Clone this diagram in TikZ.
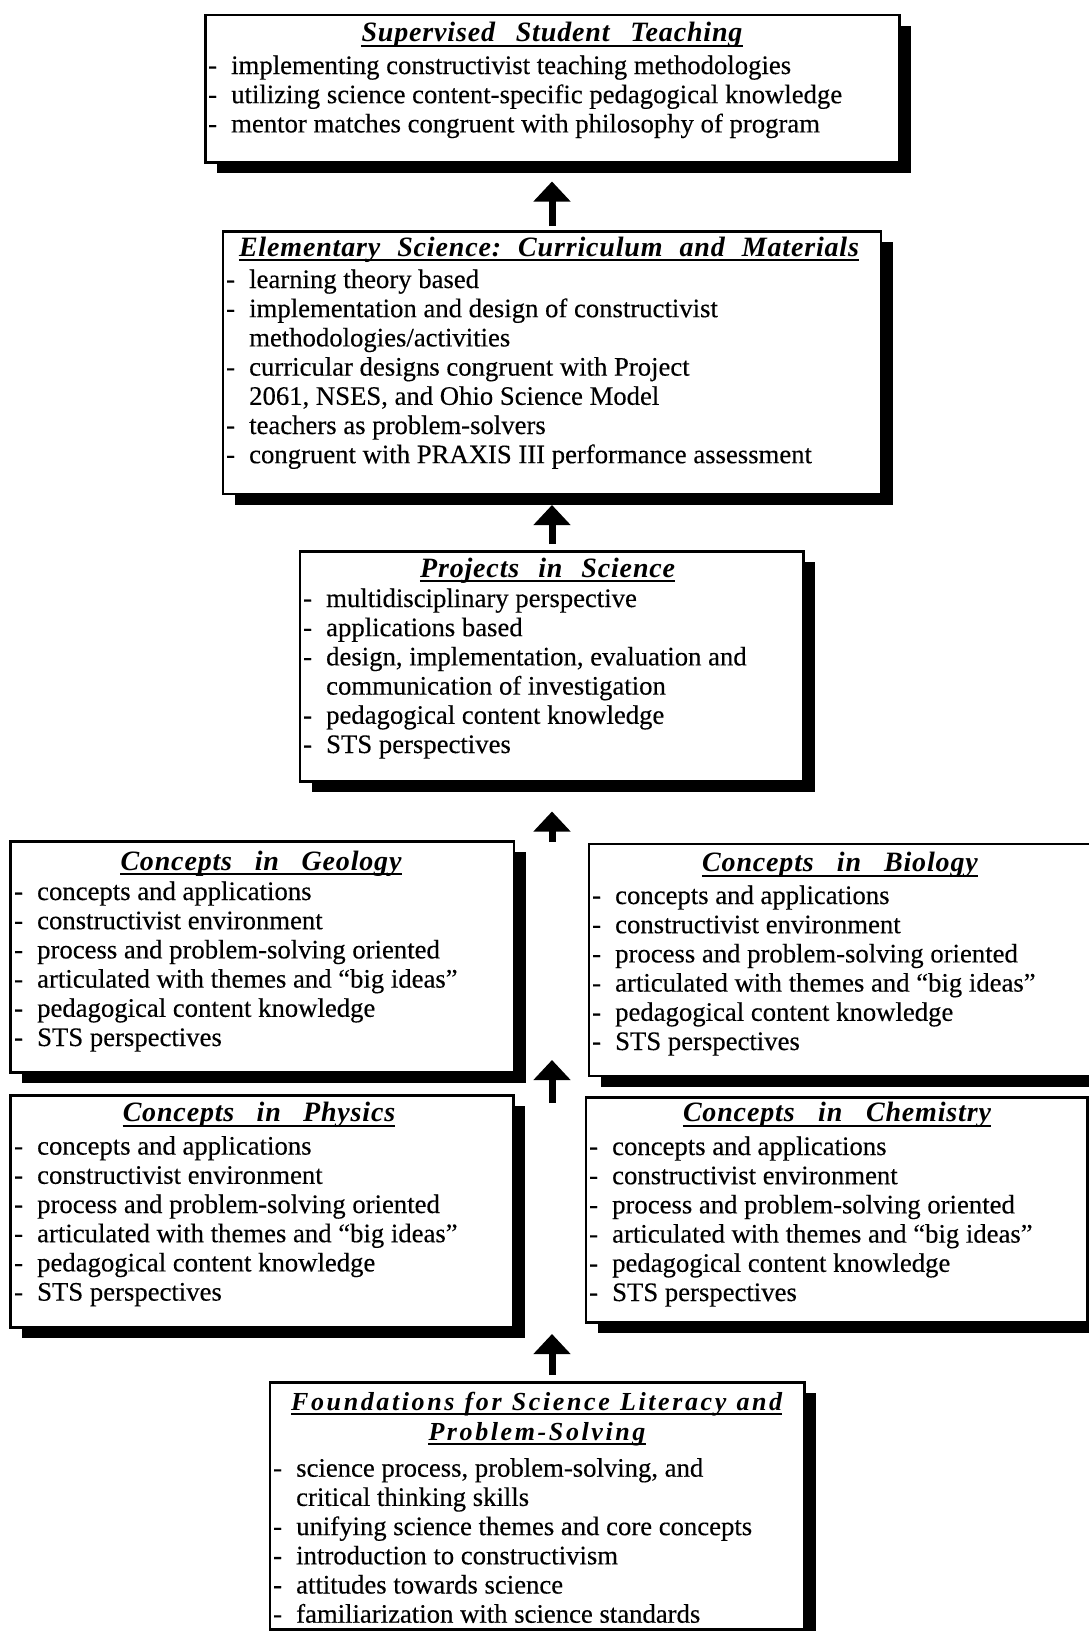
\documentclass[tikz,border=0pt]{standalone}
\usepackage{fontspec}
\setmainfont{Liberation Serif}[FakeBold=0.3]
\newfontfamily\ttlfont{Liberation Serif}[LetterSpace=3]
\newfontfamily\ttlfontwide{Liberation Serif}[LetterSpace=10]
\usetikzlibrary{arrows.meta,shadows}

\newcommand\bodyfont{\fontsize{26.7pt}{29.2pt}\selectfont}
\newcommand\itm{\makebox[23pt][l]{-}}
\newcommand\cnt{\hspace*{23pt}}
\newcommand\lines[1]{\parbox[t]{640pt}{\raggedright #1}}

\tikzset{
  panel/.style={draw, line width=2.5pt, fill=white, inner sep=0pt, anchor=north west,
    drop shadow={shadow xshift=12pt, shadow yshift=-11pt, fill=black, opacity=1}},
  ttl/.style={inner sep=0pt, anchor=base,
    font=\ttlfont\fontsize{28pt}{30pt}\selectfont\bfseries\itshape},
  ttlwide/.style={inner sep=0pt, anchor=base,
    font=\ttlfontwide\fontsize{26pt}{30pt}\selectfont\bfseries\itshape},
  body/.style={inner sep=0pt, anchor=base west, font=\bodyfont},
  uline/.style={line width=2pt},
  uparrow/.style={line width=7pt, -{Triangle[width=36pt,length=20pt]}}
}
% underline below a title node
\newcommand\uline[1]{\draw[uline] ([yshift=-4pt]#1.base west) -- ([yshift=-4pt]#1.base east);}

\begin{document}
\begin{tikzpicture}[x=1pt,y=-1pt]
\fill[white] (0,0) rectangle (1089,1631);
\useasboundingbox (0,0) rectangle (1089,1631);

% ---------- panels ----------
\node[panel, minimum width=694pt, minimum height=147.5pt] (stt) at (204,13.5) {};
\node[panel, minimum width=658pt, minimum height=262.5pt] (esc) at (221.5,230) {};
\node[panel, minimum width=503.5pt, minimum height=230pt] (ps) at (298.5,550) {};
\node[panel, minimum width=503.5pt, minimum height=231pt] (geo) at (9,840) {};
\node[panel, minimum width=512pt, minimum height=232pt] (bio) at (587.7,842.5) {};
\node[panel, minimum width=503pt, minimum height=232pt] (phy) at (9,1094) {};
\node[panel, minimum width=501.5pt, minimum height=225pt] (chm) at (584.5,1096) {};
\node[panel, minimum width=534.5pt, minimum height=247pt] (fnd) at (268.5,1381) {};

% ---------- titles ----------
\node[ttl] (stt-t) at (552,41.7) {\hbox to 381pt{Supervised\hfil Student\hfil Teaching}};
\node[ttl] (esc-t) at (549,256) {\hbox to 620pt{Elementary\hfil Science:\hfil Curriculum\hfil and\hfil Materials}};
\node[ttl] (ps-t) at (547.6,577) {\hbox to 255pt{Projects\hfil in\hfil Science}};
\node[ttl] (geo-t) at (261,870) {\hbox to 281pt{Concepts\hfil in\hfil Geology}};
\node[ttl] (bio-t) at (840,871.5) {\hbox to 275.6pt{Concepts\hfil in\hfil Biology}};
\node[ttl] (phy-t) at (259,1121.6) {\hbox to 272.5pt{Concepts\hfil in\hfil Physics}};
\node[ttl] (chm-t) at (837,1121.7) {\hbox to 308pt{Concepts\hfil in\hfil Chemistry}};
\node[ttlwide] (fnd-t) at (536.7,1410) {\hbox to 491pt{Foundations\hfil for\hfil Science\hfil Literacy\hfil and}};
\node[ttlwide] (fnd-u) at (537,1440) {Problem-Solving};
\uline{stt-t}\uline{esc-t}\uline{ps-t}\uline{geo-t}\uline{bio-t}
\uline{phy-t}\uline{chm-t}\uline{fnd-t}\uline{fnd-u}

% ---------- bullet lists ----------
\node[body] (stt-b) at (208,74) {\lines{%
\itm implementing constructivist teaching methodologies\\
\itm utilizing science content-specific pedagogical knowledge\\
\itm mentor matches congruent with philosophy of program}};

\node[body] (esc-b) at (226,288) {\lines{%
\itm learning theory based\\
\itm implementation and design of constructivist\\
\cnt methodologies/activities\\
\itm curricular designs congruent with Project\\
\cnt 2061, NSES, and Ohio Science Model\\
\itm teachers as problem-solvers\\
\itm congruent with PRAXIS III performance assessment}};

\node[body] (ps-b) at (303,607) {\lines{%
\itm multidisciplinary perspective\\
\itm applications based\\
\itm design, implementation, evaluation and\\
\cnt communication of investigation\\
\itm pedagogical content knowledge\\
\itm STS perspectives}};

\newcommand\conceptlist{\lines{%
\itm concepts and applications\\
\itm constructivist environment\\
\itm process and problem-solving oriented\\
\itm articulated with themes and “big ideas”\\
\itm pedagogical content knowledge\\
\itm STS perspectives}}
\node[body] (geo-b) at (14,900) {\conceptlist};
\node[body] (bio-b) at (592,904) {\conceptlist};
\node[body] (phy-b) at (14,1154.6) {\conceptlist};
\node[body] (chm-b) at (589,1155) {\conceptlist};

\node[body] (fnd-b) at (273,1476.7) {\lines{%
\itm science process, problem-solving, and\\
\cnt critical thinking skills\\
\itm unifying science themes and core concepts\\
\itm introduction to constructivism\\
\itm attitudes towards science\\
\itm familiarization with science standards}};

% ---------- arrows ----------
\coordinate (ax) at (552,0);
\coordinate (a3) at (552,842);
\coordinate (a4) at (552,1103);
\coordinate (a4t) at (552,1060);
\coordinate (a5t) at (552,1334);
\draw[uparrow, shorten <=4pt, shorten >=18pt] (ax |- esc.north) -- (ax |- stt.south);
\draw[uparrow, shorten <=6pt, shorten >=10pt] (ax |- ps.north) -- (ax |- esc.south);
\draw[uparrow, shorten >=29pt] (a3) -- (ax |- ps.south);
\draw[uparrow] (a4) -- (a4t);
\draw[uparrow, shorten <=6pt] (ax |- fnd.north) -- (a5t);
\end{tikzpicture}
\end{document}
